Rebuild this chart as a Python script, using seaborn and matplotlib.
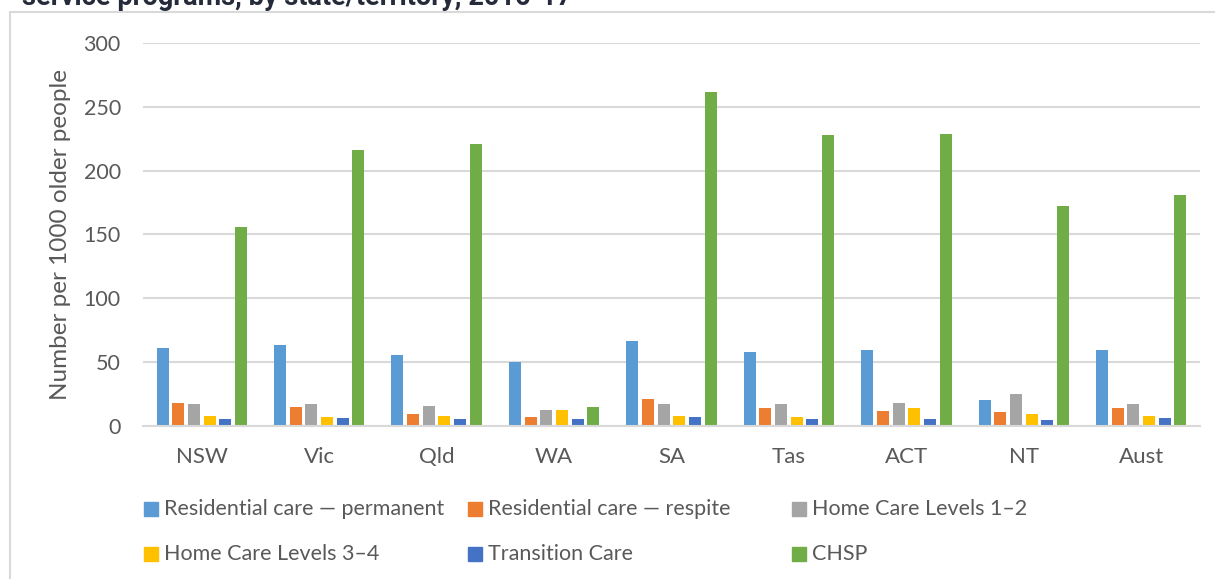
import numpy as np
import pandas as pd
import matplotlib
matplotlib.use("Agg")
import matplotlib.pyplot as plt
import matplotlib.patches as mpatches
import seaborn as sns

# Data
states = ["NSW", "Vic", "Qld", "WA", "SA", "Tas", "ACT", "NT", "Aust"]
programs = ["Residential care \u2014 permanent", "Residential care \u2014 respite",
            "Home Care Levels 1\u20132", "Home Care Levels 3\u20134",
            "Transition Care", "CHSP"]
res_perm = [61.0, 63.6, 55.8, 50.0, 66.8, 57.6, 59.4, 20.7, 59.7]
res_respite = [18.3, 14.9, 9.4, 7.0, 21.2, 14.4, 12.0, 10.7, 14.4]
hc_12 = [17.5, 17.5, 15.9, 12.8, 17.5, 17.0, 18.0, 25.4, 17.0]
hc_34 = [7.6, 7.3, 7.8, 12.8, 7.9, 7.3, 14.4, 9.7, 8.1]
transition = [5.7, 6.5, 5.5, 5.7, 7.3, 5.5, 5.8, 4.7, 6.0]
chsp = [156.0, 216.0, 220.5, 14.9, 261.5, 228.0, 228.5, 172.5, 181.0]
colors = ["#5B9BD5", "#ED7D31", "#A5A5A5", "#FFC000", "#4472C4", "#70AD47"]

series = [res_perm, res_respite, hc_12, hc_34, transition, chsp]
df = pd.DataFrame({
    "state": np.tile(states, len(programs)),
    "program": np.repeat(programs, len(states)),
    "value": np.concatenate(series),
})

sns.set_style("white")
plt.rcParams["font.family"] = ["Lato", "DejaVu Sans"]
text_col = "#595959"

fig = plt.figure(figsize=(12.15, 5.79), dpi=100)
ax = fig.add_axes([143 / 1215, 1 - 426 / 579, (1200 - 143) / 1215, 383 / 579])

sns.barplot(data=df, x="state", y="value", hue="program", order=states,
            hue_order=programs, palette=colors, width=0.8, gap=0.23,
            saturation=1, linewidth=0, legend=False, ax=ax)

ax.set_ylim(0, 300)
ax.set_yticks(range(0, 301, 50))
ax.yaxis.grid(True, color="#D9D9D9", linewidth=1.5)
ax.set_axisbelow(True)
for s in ["top", "right", "left"]:
    ax.spines[s].set_visible(False)
ax.spines["bottom"].set_color("#D9D9D9")
ax.spines["bottom"].set_linewidth(1.5)
ax.tick_params(axis="y", length=0, labelsize=15.5, labelcolor=text_col, pad=16)
ax.tick_params(axis="x", length=0, labelsize=16, labelcolor=text_col, pad=15)
ax.set_xlabel("")
ax.set_ylabel("Number per 1000 older people", fontsize=17.5, color=text_col, labelpad=9)

# legend laid out in Excel style: 3 equal columns, 2 rows
col_x = [144, 468, 792]
row_y = [509, 554]
for i, (name, c) in enumerate(zip(programs, colors)):
    x0 = col_x[i % 3]
    y0 = row_y[i // 3]
    fig.add_artist(mpatches.Rectangle((x0 / 1215, 1 - (y0 + 7) / 579), 14 / 1215, 14 / 579,
                                      transform=fig.transFigure, color=c))
    fig.text((x0 + 20) / 1215, 1 - y0 / 579, name, fontsize=15.5, color=text_col,
             va="center", ha="left")

# outer chart frame and clipped title from the source page
fig.add_artist(mpatches.Rectangle((10 / 1215, -0.01), 1.02, 1 - 12 / 579 + 0.01,
                                  transform=fig.transFigure, fill=False,
                                  edgecolor="#D9D9D9", linewidth=1.5))
fig.text(22 / 1215, 1 - 5 / 579, "service programs, by state/territory, 2016-17",
         fontsize=19.5, fontweight="bold", color="#252B3A", family=["Roboto", "DejaVu Sans"],
         va="baseline", ha="left")

fig.savefig("out.png", dpi=100)
